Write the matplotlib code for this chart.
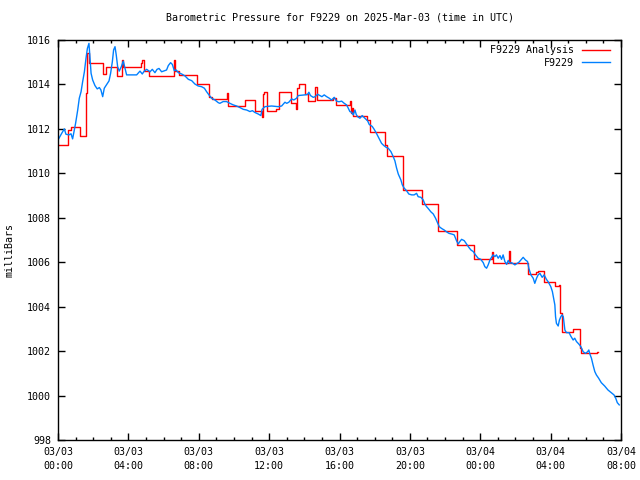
import matplotlib
matplotlib.use("Agg")
import matplotlib.pyplot as plt
from matplotlib.ticker import MultipleLocator

# ---------------- data ----------------
title = "Barometric Pressure for F9229 on 2025-Mar-03 (time in UTC)"
ylabel = "milliBars"
xtick_hours = [0, 4, 8, 12, 16, 20, 24, 28, 32]
xtick_labels = ["03/03\n00:00", "03/03\n04:00", "03/03\n08:00", "03/03\n12:00",
                "03/03\n16:00", "03/03\n20:00", "03/04\n00:00", "03/04\n04:00",
                "03/04\n08:00"]
yticks = [998, 1000, 1002, 1004, 1006, 1008, 1010, 1012, 1014, 1016]

# observed series (hours since 03/03 00:00 UTC, mb)
obs_hours = [0.0, 0.21, 0.36, 0.45, 0.62, 0.74, 0.83, 0.91, 1.0, 1.12, 1.21, 1.31, 1.4, 1.5,
             1.59, 1.67, 1.76, 1.82, 1.88, 1.97, 2.1, 2.23, 2.35, 2.44, 2.54, 2.63, 2.77, 2.9,
             2.99, 3.09, 3.16, 3.24, 3.31, 3.39, 3.48, 3.6, 3.71, 3.81, 3.9, 4.47, 4.66, 4.79,
             4.9, 5.04, 5.23, 5.36, 5.51, 5.63, 5.74, 5.89, 6.17, 6.27, 6.4, 6.5, 6.61, 6.72,
             6.84, 7.03, 7.22, 7.41, 7.6, 7.78, 7.97, 8.16, 8.32, 8.45, 8.58, 8.73, 8.92, 9.11,
             9.2, 9.39, 9.58, 9.77, 9.96, 10.15, 10.34, 10.53, 10.72, 10.91, 11.05, 11.19,
             11.38, 11.53, 11.6, 11.76, 12.14, 12.52, 12.71, 12.9, 13.0, 13.12, 13.28, 13.4,
             13.56, 13.65, 14.03, 14.18, 14.26, 14.35, 14.51, 14.62, 14.75, 14.89, 15.0,
             15.13, 15.27, 15.42, 15.55, 15.7, 15.83, 15.97, 16.12, 16.27, 16.4, 16.5, 16.59,
             16.68, 16.78, 16.88, 16.95, 17.03, 17.16, 17.29, 17.44, 17.6, 17.69, 17.78,
             17.86, 17.97, 18.1, 18.24, 18.39, 18.52, 18.67, 18.77, 18.92, 19.05, 19.15,
             19.24, 19.34, 19.49, 19.57, 19.68, 19.81, 19.94, 20.1, 20.24, 20.38, 20.47,
             20.63, 20.76, 20.85, 20.95, 21.04, 21.19, 21.33, 21.46, 21.57, 21.67, 21.8,
             21.95, 22.08, 22.22, 22.37, 22.52, 22.65, 22.75, 22.84, 22.94, 23.09, 23.22,
             23.35, 23.47, 23.6, 23.73, 23.88, 24.03, 24.17, 24.26, 24.36, 24.45, 24.55,
             24.64, 24.73, 24.83, 24.92, 25.02, 25.12, 25.21, 25.3, 25.4, 25.5, 25.59, 25.68,
             25.78, 25.97, 26.1, 26.2, 26.31, 26.44, 26.57, 26.69, 26.76, 26.88, 27.01, 27.1,
             27.2, 27.29, 27.39, 27.52, 27.63, 27.76, 27.86, 28.01, 28.1, 28.24, 28.28,
             28.33, 28.43, 28.5, 28.58, 28.65, 28.72, 28.81, 28.9, 29.05, 29.15, 29.28,
             29.37, 29.47, 29.6, 29.72, 29.85, 29.98, 30.1, 30.17, 30.23, 30.32, 30.41,
             30.51, 30.6, 30.73, 30.88, 31.07, 31.26, 31.45, 31.6, 31.7, 31.79, 31.9]
obs_mb = [1011.5, 1011.8, 1012.0, 1011.76, 1011.73, 1011.78, 1011.55, 1011.87, 1012.25,
          1012.85, 1013.38, 1013.67, 1014.12, 1014.57, 1015.17, 1015.62, 1015.85, 1015.17,
          1014.5, 1014.2, 1013.95, 1013.8, 1013.86, 1013.75, 1013.45, 1013.83, 1014.0,
          1014.16, 1014.5, 1015.03, 1015.55, 1015.7, 1015.33, 1014.8, 1014.6, 1014.8,
          1015.05, 1014.72, 1014.43, 1014.43, 1014.6, 1014.47, 1014.6, 1014.68, 1014.57,
          1014.68, 1014.53, 1014.68, 1014.72, 1014.57, 1014.65, 1014.85, 1014.98, 1014.9,
          1014.62, 1014.65, 1014.53, 1014.47, 1014.38, 1014.23, 1014.17, 1014.02, 1013.93,
          1013.9, 1013.83, 1013.67, 1013.53, 1013.38, 1013.3, 1013.18, 1013.15, 1013.23,
          1013.23, 1013.15, 1013.08, 1013.03, 1012.96, 1012.88, 1012.85, 1012.78, 1012.82,
          1012.74, 1012.67, 1012.6, 1012.88, 1013.0, 1013.03, 1013.0, 1013.03, 1013.2,
          1013.15, 1013.2, 1013.35, 1013.3, 1013.38, 1013.5, 1013.53, 1013.55, 1013.65,
          1013.5, 1013.42, 1013.45, 1013.56, 1013.5, 1013.45, 1013.53, 1013.45, 1013.38,
          1013.3, 1013.42, 1013.25, 1013.22, 1013.25, 1013.15, 1013.08, 1012.93, 1012.78,
          1012.75, 1012.63, 1012.85, 1012.65, 1012.55, 1012.48, 1012.6, 1012.48, 1012.36,
          1012.2, 1012.15, 1012.11, 1011.98, 1011.8, 1011.58, 1011.35, 1011.25, 1011.16,
          1011.13, 1010.98, 1010.76, 1010.56, 1010.25, 1009.97, 1009.7, 1009.48, 1009.33,
          1009.22, 1009.07, 1009.03, 1009.03, 1009.1, 1008.95, 1008.92, 1008.8, 1008.62,
          1008.5, 1008.42, 1008.27, 1008.17, 1007.98, 1007.78, 1007.6, 1007.52, 1007.45,
          1007.37, 1007.3, 1007.27, 1007.23, 1006.97, 1006.82, 1006.93, 1007.03, 1006.97,
          1006.82, 1006.67, 1006.55, 1006.48, 1006.33, 1006.18, 1006.13, 1005.98, 1005.8,
          1005.73, 1005.88, 1006.1, 1006.22, 1006.33, 1006.25, 1006.33, 1006.18, 1006.3,
          1006.13, 1006.33, 1006.03, 1005.9, 1006.08, 1005.95, 1005.98, 1005.88, 1005.95,
          1006.0, 1006.1, 1006.22, 1006.1, 1006.03, 1005.73, 1005.43, 1005.28, 1005.05,
          1005.28, 1005.43, 1005.5, 1005.32, 1005.43, 1005.23, 1005.12, 1004.9, 1004.68,
          1004.08, 1003.55, 1003.25, 1003.13, 1003.4, 1003.55, 1003.63, 1003.55, 1002.95,
          1002.83, 1002.83, 1002.67, 1002.5, 1002.58, 1002.43, 1002.32, 1002.2, 1001.97,
          1001.9, 1001.97, 1002.05, 1001.87, 1001.68, 1001.38, 1001.08, 1000.93, 1000.78,
          1000.58, 1000.43, 1000.25, 1000.13, 1000.03, 999.88, 999.68, 999.58]

# analysis series (step values: start hour, mb)
ana_hours = [0.0, 0.59, 0.72, 1.25, 1.59, 1.67, 1.74, 2.58, 2.7, 3.37, 3.62, 3.68, 4.72,
             4.8, 4.86, 5.15, 6.58, 6.64, 6.9, 7.88, 8.6, 8.73, 9.6, 9.66, 10.63, 11.18,
             11.57, 11.63, 11.72, 11.9, 12.4, 12.55, 13.26, 13.52, 13.58, 13.68, 14.05,
             14.22, 14.62, 14.7, 15.62, 15.78, 16.58, 16.64, 16.72, 16.78, 17.58, 17.72,
             18.6, 18.72, 19.6, 20.68, 21.62, 22.66, 23.66, 24.64, 24.7, 25.64, 25.7, 26.72,
             27.15, 27.3, 27.65, 28.25, 28.45, 28.55, 28.62, 29.26, 29.68, 29.74, 30.65,
             30.72]
ana_mb = [1011.26, 1011.95, 1012.1, 1011.7, 1013.6, 1015.4, 1014.95, 1014.45, 1014.77,
          1014.4, 1015.1, 1014.77, 1014.95, 1015.1, 1014.6, 1014.4, 1015.1, 1014.6,
          1014.43, 1014.0, 1013.43, 1013.35, 1013.6, 1013.03, 1013.3, 1012.82, 1012.53,
          1013.55, 1013.65, 1012.82, 1012.9, 1013.65, 1013.15, 1012.88, 1013.85, 1014.0,
          1013.55, 1013.25, 1013.9, 1013.3, 1013.4, 1013.07, 1013.25, 1012.7, 1012.95,
          1012.6, 1012.38, 1011.86, 1011.27, 1010.76, 1009.25, 1008.62, 1007.42, 1006.78,
          1006.13, 1006.47, 1005.95, 1006.52, 1005.95, 1005.47, 1005.55, 1005.62, 1005.1,
          1004.92, 1004.98, 1003.7, 1002.87, 1002.98, 1002.13, 1001.93, 1001.98, 1001.98]

# ---------------- plot ----------------
plt.rcParams['font.family'] = ['DejaVu Sans Mono']
FS = 7.2

fig = plt.figure(figsize=(6.4, 4.8), dpi=100)
ax = fig.add_axes([58 / 640, 40 / 480, 563 / 640, 400 / 480])

ax.plot(ana_hours, ana_mb, color='#ff0000', lw=1.0, drawstyle='steps-post',
        label='F9229 Analysis')
ax.plot(obs_hours, obs_mb, color='#0080ff', lw=1.0, label='F9229')

ax.set_xlim(0, 32)
ax.set_ylim(998, 1016)
ax.set_xticks(xtick_hours)
ax.set_xticklabels(xtick_labels, fontsize=FS, linespacing=1.5)
ax.xaxis.set_minor_locator(MultipleLocator(1))
ax.set_yticks(yticks)
ax.set_yticklabels([str(v) for v in yticks], fontsize=FS)

ax.tick_params(which='both', direction='in', top=True, right=True, color='black')
ax.tick_params(which='major', length=5, width=1, pad=5)
ax.tick_params(which='minor', length=2.5, width=1)
for s in ax.spines.values():
    s.set_linewidth(1.0)

ax.set_title(title, fontsize=FS, pad=14)
fig.text(10 / 640, 1 - 250 / 480, ylabel, rotation=90, fontsize=FS,
         ha='center', va='center')

leg = ax.legend(loc='upper right', frameon=False, fontsize=FS, markerfirst=False,
                handlelength=2.8, handletextpad=0.8, borderaxespad=0.3,
                labelspacing=0.25, bbox_to_anchor=(0.993, 1.005))

fig.savefig('out.png', dpi=100)
